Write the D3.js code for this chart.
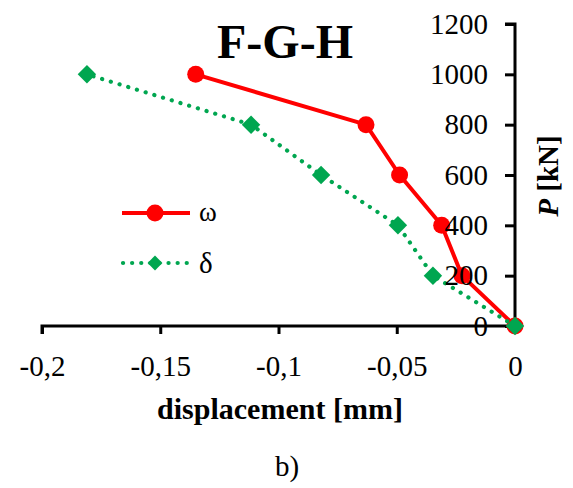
<!DOCTYPE html>
<html><head><meta charset="utf-8">
<script src="https://cdn.jsdelivr.net/npm/d3@7/dist/d3.min.js"></script>
<style>body{margin:0;background:#fff}svg{display:block}</style>
</head><body>
<svg id="c" width="573" height="488" font-family="Liberation Serif"></svg>
<script>
const loads = [0, 200, 400, 600, 800, 1000];
const omega = [0, -0.0224, -0.031, -0.0488, -0.063, -0.135];
const delta = [0, -0.0347, -0.0495, -0.082, -0.1116, -0.181];
const xTicks = [-0.2, -0.15, -0.1, -0.05, 0];
const xTickLabels = ["-0,2", "-0,15", "-0,1", "-0,05", "0"];
const yTicks = [0, 200, 400, 600, 800, 1000, 1200];
const seriesNames = ["ω", "δ"];

const FF = "Liberation Serif";
const svg = d3.select("#c");
const x = d3.scaleLinear().domain([-0.2, 0]).range([42, 515]);
const y = d3.scaleLinear().domain([0, 1200]).range([326, 24]);
const FS = 29;

// axes
const xAxis = d3.axisBottom(x).tickValues(xTicks).tickFormat((d,i)=>xTickLabels[i]).tickSize(8).tickPadding(21);
const gx = svg.append("g").attr("transform", `translate(0,${y(0)})`).call(xAxis).attr("font-family",FF);
gx.select(".domain").attr("stroke","#000").attr("stroke-width",3).attr("d", `M${x(-0.2)},8V0H${x(0)}`);
gx.selectAll(".tick line").attr("stroke","#000").attr("stroke-width",3);
gx.selectAll(".tick text").attr("font-size",FS).attr("fill","#000").style("font-family",FF);

const yAxis = d3.axisLeft(y).tickValues(yTicks).tickSize(10).tickPadding(17).tickFormat(d3.format("d"));
const gy = svg.append("g").attr("transform", `translate(${x(0)},0)`).call(yAxis);
gy.select(".domain").attr("stroke","#000").attr("stroke-width",3).attr("d", `M-10,${y(1200)}H0V${y(0)}`);
gy.selectAll(".tick line").attr("stroke","#000").attr("stroke-width",3);
gy.selectAll(".tick text").remove();

const red = "#ff0000", green = "#00a650";
const line = d3.line();
const ptsO = loads.map((p,i)=>[x(omega[i]), y(p)]);
const ptsD = loads.map((p,i)=>[x(delta[i]), y(p)]);

svg.append("path").attr("d", line(ptsO)).attr("fill","none").attr("stroke",red).attr("stroke-width",4).attr("stroke-linejoin","round");
svg.selectAll("circle.o").data(ptsO).join("circle").attr("cx",d=>d[0]).attr("cy",d=>d[1]).attr("r",8.5).attr("fill",red);

svg.append("path").attr("d", line(ptsD)).attr("fill","none").attr("stroke",green).attr("stroke-width",4.2)
  .attr("stroke-dasharray","0.1 9").attr("stroke-linecap","round");
const dia = d3.symbol().type(d3.symbolSquare).size(170);
svg.selectAll("path.d").data(ptsD).join("path").attr("d",dia).attr("transform",d=>`translate(${d[0]},${d[1]}) rotate(45)`).attr("fill",green);

// y tick labels on top
const gy2 = svg.append("g").attr("transform", `translate(${x(0)},0)`).call(yAxis).attr("font-family",FF);
gy2.select(".domain").remove();
gy2.selectAll(".tick line").remove();
gy2.selectAll(".tick text").attr("font-size",FS).attr("fill","#000").style("font-family",FF);

// legend
const lg = svg.append("g");
lg.append("line").attr("x1",122).attr("x2",190).attr("y1",213).attr("y2",213).attr("stroke",red).attr("stroke-width",4);
lg.append("circle").attr("cx",155).attr("cy",213).attr("r",8.5).attr("fill",red);
lg.append("text").attr("x",199).attr("y",221).text(seriesNames[0]).attr("font-size",27).style("font-family",FF);
lg.append("line").attr("x1",123).attr("x2",187).attr("y1",263).attr("y2",263).attr("stroke",green).attr("stroke-width",4.2)
  .attr("stroke-dasharray","0.1 9").attr("stroke-linecap","round");
lg.append("path").attr("d",d3.symbol().type(d3.symbolSquare).size(110)).attr("transform","translate(155,263) rotate(45)").attr("fill",green);
lg.append("text").attr("x",199).attr("y",273).text(seriesNames[1]).attr("font-size",29).style("font-family",FF);

// titles
svg.append("text").attr("x",285).attr("y",58).attr("text-anchor","middle").style("font-family",FF)
  .attr("font-weight","bold").attr("font-size",48).text("F-G-H");
svg.append("text").attr("x",280).attr("y",419).attr("text-anchor","middle").style("font-family",FF)
  .attr("font-weight","bold").attr("font-size",30).text("displacement [mm]");
svg.append("text").attr("x",287).attr("y",476).attr("text-anchor","middle").style("font-family",FF)
  .attr("font-size",29).text("b)");
const yl = svg.append("text").attr("transform","translate(558,176) rotate(-90)").attr("text-anchor","middle")
  .style("font-family",FF).attr("font-size",29).attr("font-weight","bold");
yl.append("tspan").attr("font-style","italic").text("P");
yl.append("tspan").text(" [kN]");
</script>
</body></html>
